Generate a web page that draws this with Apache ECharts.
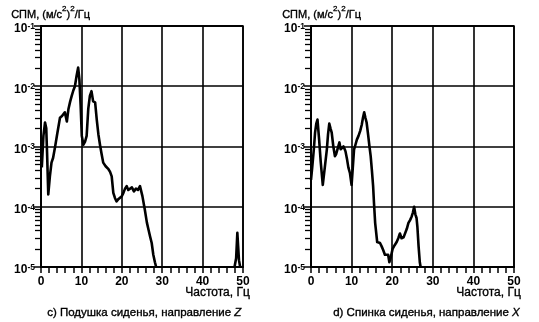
<!DOCTYPE html>
<html>
<head>
<meta charset="utf-8">
<script src="https://cdn.jsdelivr.net/npm/echarts@6/dist/echarts.min.js"></script>
<style>
  html, body { margin: 0; padding: 0; background: #fff; }
  #chart { width: 539px; height: 322px; }
</style>
</head>
<body>
<div id="chart"></div>
<script>
// Seat cushion, Z direction: frequency (Hz) and PSD ((m/s^2)^2/Hz)
const cushionFreq = [0.2, 0.6, 1.0, 1.3, 1.5, 1.8, 2.2, 2.6, 3.0, 3.5, 4.0, 4.7, 5.2, 5.6, 5.9, 6.2, 6.4, 6.8, 7.2, 7.6, 8.0, 8.4, 8.8, 9.2, 9.5, 9.8, 10.1, 10.5, 10.9, 11.3, 11.7, 12.1, 12.5, 12.9, 13.4, 13.8, 14.2, 14.6, 15.0, 15.4, 16.0, 16.7, 17.1, 17.5, 17.9, 18.3, 18.7, 19.2, 19.6, 20.0, 20.4, 20.8, 21.2, 21.6, 22.0, 22.5, 23.0, 23.5, 24.0, 24.5, 25.1, 25.7, 26.2, 26.6, 27.0, 27.4, 27.8, 28.2, 28.5, 38.0, 47.9, 48.3, 48.6, 48.8, 49.0, 49.3];
const cushionPsd = [4.5e-4, 1.5e-3, 2.5e-3, 2.0e-3, 8e-4, 1.6e-4, 3.2e-4, 5.4e-4, 6.5e-4, 1.0e-3, 1.6e-3, 3.0e-3, 3.2e-3, 3.0e-3, 3.7e-3, 3.0e-3, 2.6e-3, 4.2e-3, 5.5e-3, 6.9e-3, 8.5e-3, 1.0e-2, 1.48e-2, 2.04e-2, 1.3e-2, 5.0e-3, 1.5e-3, 1.07e-3, 1.2e-3, 1.5e-3, 4.2e-3, 6.9e-3, 8.3e-3, 5.6e-3, 5.4e-3, 2.8e-3, 1.6e-3, 1.07e-3, 7.5e-4, 5.4e-4, 4.7e-4, 4.2e-4, 3.8e-4, 3.2e-4, 1.7e-4, 1.4e-4, 1.23e-4, 1.35e-4, 1.3e-4, 1.5e-4, 1.7e-4, 2.0e-4, 2.2e-4, 1.9e-4, 1.9e-4, 2.1e-4, 1.8e-4, 2.0e-4, 1.9e-4, 2.2e-4, 1.5e-4, 8.9e-5, 5.5e-5, 4.2e-5, 3.2e-5, 2.5e-5, 1.6e-5, 1.2e-5, 1.0e-5, null, 1.0e-5, 1.4e-5, 3.7e-5, 2.2e-5, 1.3e-5, 1.0e-5];

// Seat back, X direction
const backFreq = [0.0, 0.3, 0.7, 1.0, 1.3, 1.6, 2.0, 2.4, 2.9, 3.4, 3.9, 4.2, 4.5, 4.8, 5.1, 5.5, 5.9, 6.2, 6.5, 7.0, 7.3, 7.6, 8.0, 8.3, 8.5, 8.9, 9.2, 9.6, 10.0, 10.3, 10.6, 11.0, 11.3, 11.7, 12.1, 12.5, 12.8, 13.1, 13.4, 13.7, 14.1, 14.4, 14.7, 15.0, 15.3, 15.5, 15.8, 16.3, 17.0, 17.4, 17.8, 18.2, 18.5, 19.0, 19.3, 19.6, 20.1, 20.6, 21.1, 21.5, 21.9, 22.3, 22.8, 23.2, 23.6, 24.0, 24.4, 24.8, 25.1, 25.4, 25.7, 26.0, 26.2, 26.5, 26.8, 27.0];
const backPsd = [2.8e-4, 4.5e-4, 9e-4, 1.7e-3, 2.4e-3, 2.8e-3, 1.3e-3, 5.5e-4, 2.3e-4, 4.5e-4, 8.9e-4, 1.6e-3, 2.4e-3, 2.0e-3, 1.7e-3, 1.0e-3, 6.9e-4, 7.5e-4, 8.9e-4, 1.17e-3, 9.0e-4, 8.9e-4, 1.0e-3, 9.0e-4, 8.3e-4, 6.0e-4, 4.5e-4, 3.6e-4, 2.3e-4, 4.5e-4, 8.9e-4, 1.1e-3, 1.3e-3, 1.5e-3, 1.8e-3, 2.3e-3, 3.0e-3, 3.7e-3, 3.0e-3, 2.5e-3, 1.5e-3, 1.0e-3, 6.9e-4, 4.0e-4, 2.2e-4, 1.2e-4, 5.4e-5, 2.6e-5, 2.5e-5, 2.2e-5, 1.9e-5, 1.6e-5, 1.5e-5, 1.6e-5, 1.2e-5, 1.4e-5, 2.0e-5, 2.3e-5, 2.6e-5, 3.0e-5, 3.6e-5, 3.0e-5, 3.1e-5, 3.2e-5, 4.3e-5, 5.4e-5, 6.0e-5, 6.9e-5, 8.0e-5, 1.0e-4, 7.5e-5, 6.5e-5, 4.7e-5, 2.2e-5, 1.2e-5, 1.0e-5];

// Axis settings and texts
const freqMin = 0, freqMax = 50, freqStep = 10;
const psdMin = 1e-5, psdMax = 1e-1;
const yTitle = ['СПМ, (м/с', '2', ')', '2', '/Гц'];
const xTitle = 'Частота, Гц';
const captions = [
  ['c) Подушка сиденья, направление ', 'Z'],
  ['d) Спинка сиденья, направление ', 'X']
];

const FONT = 'Liberation Sans, Arial, sans-serif';
const INK = '#000';

const pairs = (xs, ys) => xs.map((x, i) => [x, ys[i]]);

const grids = [
  { left: 41, top: 26, width: 202, height: 241 },
  { left: 311, top: 26, width: 203, height: 241 }
];

function xAxisFor(gi) {
  return {
    type: 'value', gridIndex: gi, min: freqMin, max: freqMax, interval: freqStep,
    axisLine: { show: true, onZero: false, lineStyle: { color: INK, width: 2 } },
    axisTick: { show: true, length: 6, lineStyle: { color: INK, width: 1.5 } },
    minorTick: { show: true, splitNumber: 5, length: 6, lineStyle: { color: INK, width: 1.5 } },
    axisLabel: { color: INK, fontFamily: FONT, fontSize: 12, fontWeight: 'bold', margin: 9 },
    splitLine: { show: true, lineStyle: { color: INK, width: 1.6 } }
  };
}

function yAxisFor(gi) {
  return {
    type: 'log', gridIndex: gi, logBase: 10, min: psdMin, max: psdMax,
    axisLine: { show: true, onZero: false, lineStyle: { color: INK, width: 2 } },
    axisTick: { show: true, length: 7, lineStyle: { color: INK, width: 1.5 } },
    minorTick: { show: true, splitNumber: 9, length: 6, lineStyle: { color: INK, width: 1.3 } },
    minorSplitLine: { show: false },
    axisLabel: {
      margin: 6,
      formatter: v => '{b|10}{s|' + Math.round(Math.log10(v)) + '}',
      rich: {
        b: { fontFamily: FONT, fontSize: 12, lineHeight: 12, color: INK, fontWeight: 'bold', padding: [6, 0, 0, 0] },
        s: { fontFamily: FONT, fontSize: 8.5, lineHeight: 9, color: INK, fontWeight: 'bold', verticalAlign: 'top', padding: [2, 0, 0, 0] }
      }
    },
    splitLine: { show: true, lineStyle: { color: INK, width: 1.6 } }
  };
}

const titleRich = {
  a: { fontFamily: FONT, fontSize: 11, fill: INK, stroke: INK, lineWidth: 0.35, padding: [4, 0, 0, 0] },
  s: { fontFamily: FONT, fontSize: 8, fill: INK, stroke: INK, lineWidth: 0.3, verticalAlign: 'top' }
};
const titleText = '{a|' + yTitle[0] + '}{s|' + yTitle[1] + '}{a|' + yTitle[2] + '}{s|' + yTitle[3] + '}{a|' + yTitle[4] + '}';

const capRich = {
  n: { fontFamily: FONT, fontSize: 11.5, fill: INK, stroke: INK, lineWidth: 0.35 },
  i: { fontFamily: FONT, fontSize: 11.5, fontStyle: 'italic', fill: INK, stroke: INK, lineWidth: 0.35 }
};
const xNameStyle = { text: xTitle, font: '12px ' + FONT, fill: INK, stroke: INK, lineWidth: 0.35 };

const lineSeries = (gi, data) => ({
  type: 'line', xAxisIndex: gi, yAxisIndex: gi, data,
  showSymbol: false, symbol: 'none', connectNulls: false, clip: true,
  lineStyle: { color: INK, width: 2.6, join: 'round' },
  animation: false
});

const chart = echarts.init(document.getElementById('chart'), null, { renderer: 'canvas' });
chart.setOption({
  animation: false,
  backgroundColor: '#fff',
  grid: grids.map(g => Object.assign({ show: true, borderColor: INK, borderWidth: 1.6, backgroundColor: 'transparent' }, g)),
  xAxis: [xAxisFor(0), xAxisFor(1)],
  yAxis: [yAxisFor(0), yAxisFor(1)],
  series: [
    lineSeries(0, pairs(cushionFreq, cushionPsd)),
    lineSeries(1, pairs(backFreq, backPsd))
  ],
  graphic: [
    { type: 'text', left: 11, top: 5, style: { text: titleText, rich: titleRich } },
    { type: 'text', left: 282, top: 5, style: { text: titleText, rich: titleRich } },
    { type: 'text', right: 539 - 250, top: 287, style: xNameStyle },
    { type: 'text', right: 539 - 521, top: 287, style: xNameStyle },
    { type: 'text', left: 47, top: 307, style: { text: '{n|' + captions[0][0] + '}{i|' + captions[0][1] + '}', rich: capRich } },
    { type: 'text', left: 333, top: 307, style: { text: '{n|' + captions[1][0] + '}{i|' + captions[1][1] + '}', rich: capRich } }
  ]
});
</script>
</body>
</html>
